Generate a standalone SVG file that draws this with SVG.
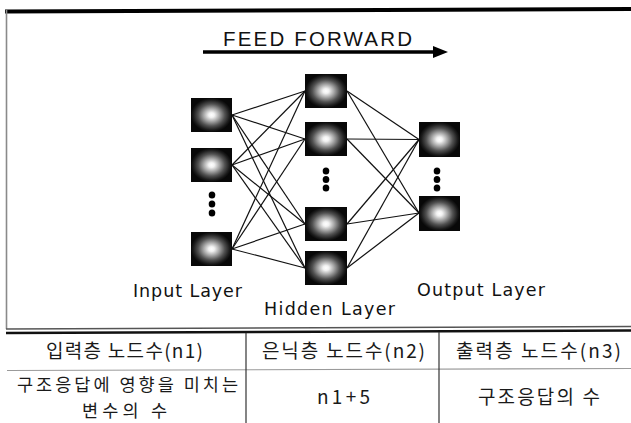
<svg xmlns="http://www.w3.org/2000/svg" width="631" height="423" viewBox="0 0 631 423">
  <defs>
    <radialGradient id="glow" cx="0.5" cy="0.5" r="0.5">
      <stop offset="0" stop-color="#ffffff"/>
      <stop offset="0.14" stop-color="#f2f2f2"/>
      <stop offset="0.38" stop-color="#a8a8a8"/>
      <stop offset="0.65" stop-color="#515151"/>
      <stop offset="0.88" stop-color="#1c1c1c"/>
      <stop offset="1" stop-color="#080808"/>
    </radialGradient>
  </defs>
  <style>
    .node { fill: url(#glow); }
    .dot { fill: #000; }
    .link { stroke: #111; stroke-width: 1.2; fill: none; }
    .en { font-family: "DejaVu Sans", "Liberation Sans", sans-serif; font-size: 17.5px; fill: #111; }
    .kr { font-family: "Noto Sans CJK KR", "Noto Sans", sans-serif; font-size: 19px; fill: #1a1a1a; text-anchor: middle; }
    .kr2 { font-size: 17.5px; }
  </style>
  <rect width="631" height="423" fill="#ffffff"/>

  <!-- frame -->
  <g id="frame">
    <line x1="5" y1="11.5" x2="631" y2="9" stroke="#000" stroke-width="4"/>
    <line x1="6.5" y1="10" x2="6.5" y2="329" stroke="#8a8a8a" stroke-width="1.6"/>
    <line x1="6" y1="329" x2="631" y2="326.5" stroke="#555" stroke-width="1.3"/>
    <line x1="6" y1="333" x2="631" y2="330.5" stroke="#111" stroke-width="2.4"/>
  </g>

  <!-- direction arrow -->
  <g id="feed-forward">
    <text x="223" y="46" font-family="Liberation Sans, Arial, sans-serif" font-size="20.5" fill="#111" textLength="189" lengthAdjust="spacing">FEED FORWARD</text>
    <line x1="203" y1="52" x2="435" y2="52" stroke="#000" stroke-width="3.5"/>
    <polygon points="433,46 448,52 433,58" fill="#000"/>
  </g>

  <!-- connectors -->
  <g id="connectors" class="link">
    <!-- input to hidden -->
    <line x1="232" y1="115" x2="305" y2="91"/>
    <line x1="232" y1="115" x2="305" y2="139"/>
    <line x1="232" y1="115" x2="305" y2="224"/>
    <line x1="232" y1="115" x2="305" y2="268"/>
    <line x1="232" y1="165" x2="305" y2="91"/>
    <line x1="232" y1="165" x2="305" y2="139"/>
    <line x1="232" y1="165" x2="305" y2="224"/>
    <line x1="232" y1="165" x2="305" y2="268"/>
    <line x1="232" y1="249" x2="305" y2="91"/>
    <line x1="232" y1="249" x2="305" y2="139"/>
    <line x1="232" y1="249" x2="305" y2="224"/>
    <line x1="232" y1="249" x2="305" y2="268"/>
    <!-- hidden to output -->
    <line x1="347" y1="91" x2="419" y2="139.5"/>
    <line x1="347" y1="91" x2="419" y2="213"/>
    <line x1="347" y1="139" x2="419" y2="139.5"/>
    <line x1="347" y1="139" x2="419" y2="213"/>
    <line x1="347" y1="224" x2="419" y2="139.5"/>
    <line x1="347" y1="224" x2="419" y2="213"/>
    <line x1="347" y1="268" x2="419" y2="139.5"/>
    <line x1="347" y1="268" x2="419" y2="213"/>
  </g>

  <!-- input layer -->
  <g id="input-1"><rect class="node" x="191" y="98" width="41" height="34"/></g>
  <g id="input-2"><rect class="node" x="191" y="148" width="41" height="34"/></g>
  <g id="input-more">
    <ellipse class="dot" cx="212" cy="195" rx="3.3" ry="3.6"/>
    <ellipse class="dot" cx="212" cy="204" rx="3.3" ry="3.6"/>
    <ellipse class="dot" cx="212" cy="213" rx="3.3" ry="3.6"/>
  </g>
  <g id="input-n"><rect class="node" x="191" y="232" width="41" height="34"/></g>

  <!-- hidden layer -->
  <g id="hidden-1"><rect class="node" x="305" y="74" width="42" height="34"/></g>
  <g id="hidden-2"><rect class="node" x="305" y="122" width="42" height="34"/></g>
  <g id="hidden-more">
    <ellipse class="dot" cx="326" cy="171" rx="3.3" ry="3.6"/>
    <ellipse class="dot" cx="326" cy="179.5" rx="3.3" ry="3.6"/>
    <ellipse class="dot" cx="326" cy="188" rx="3.3" ry="3.6"/>
  </g>
  <g id="hidden-3"><rect class="node" x="305" y="207" width="42" height="34"/></g>
  <g id="hidden-n"><rect class="node" x="305" y="251" width="42" height="34"/></g>

  <!-- output layer -->
  <g id="output-1"><rect class="node" x="419" y="122" width="41" height="35"/></g>
  <g id="output-more">
    <ellipse class="dot" cx="437" cy="171" rx="3.3" ry="3.6"/>
    <ellipse class="dot" cx="437" cy="179.5" rx="3.3" ry="3.6"/>
    <ellipse class="dot" cx="437" cy="188" rx="3.3" ry="3.6"/>
  </g>
  <g id="output-n"><rect class="node" x="419" y="196" width="41" height="35"/></g>

  <!-- layer labels -->
  <g id="labels">
    <text class="en" x="133" y="297" textLength="109" lengthAdjust="spacing">Input Layer</text>
    <text class="en" x="264" y="315" textLength="131" lengthAdjust="spacing">Hidden Layer</text>
    <text class="en" x="417" y="296" textLength="128" lengthAdjust="spacing">Output Layer</text>
  </g>

  <!-- node-count table -->
  <g id="table">
    <line x1="7" y1="370.5" x2="631" y2="368.5" stroke="#9a9a9a" stroke-width="1.1"/>
    <line x1="246" y1="333" x2="246" y2="423" stroke="#333" stroke-width="1.2"/>
    <line x1="439" y1="332" x2="439" y2="423" stroke="#333" stroke-width="1.2"/>
    <text class="kr" x="124.5" y="358" textLength="157" lengthAdjust="spacing">입력층 노드수(n1)</text>
    <text class="kr" x="343.5" y="358" textLength="163" lengthAdjust="spacing">은닉층 노드수(n2)</text>
    <text class="kr" x="538.5" y="358" textLength="165" lengthAdjust="spacing">출력층 노드수(n3)</text>
    <text class="kr kr2" x="127.5" y="390.5" textLength="221" lengthAdjust="spacing">구조응답에 영향을 미치는</text>
    <text class="kr kr2" x="124.5" y="416.5" textLength="85" lengthAdjust="spacing">변수의 수</text>
    <text class="kr" x="343.5" y="404" textLength="53" lengthAdjust="spacing">n1+5</text>
    <text class="kr" x="539" y="404" textLength="122" lengthAdjust="spacing">구조응답의 수</text>
  </g>
</svg>
